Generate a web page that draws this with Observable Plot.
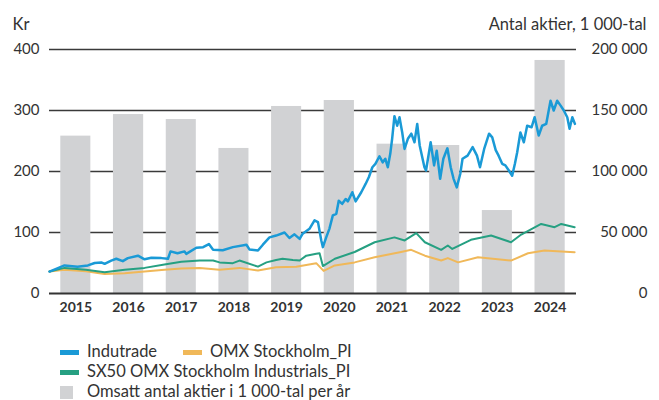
<!DOCTYPE html>
<html><head><meta charset="utf-8">
<script src="https://cdn.jsdelivr.net/npm/d3@7"></script>
<script src="https://cdn.jsdelivr.net/npm/@observablehq/plot@0.6"></script>
<style>
body{margin:0;background:#fff;font-family:Lato,sans-serif;color:#333;}
#chart{position:absolute;left:0;top:0;}
#legend{position:absolute;left:0;top:339px;width:659px;font-size:16.5px;color:#333;}
.row{position:absolute;height:20px;line-height:20px;white-space:nowrap;}
.sw{display:inline-block;vertical-align:middle;}
</style></head><body>
<div id="chart"></div>
<div id="legend"></div>
<script>
// Bars: traded shares per year, 1 000-tal
const years = [2015,2016,2017,2018,2019,2020,2021,2022,2023,2024];
const volume = [129000,146700,142600,118900,153300,158200,122400,121300,68000,191000];

// Indutrade share price, kr
const indutrade = [["2015-01-01",36],["2015-04-15",46],["2015-07-14",44],["2015-09-24",46],["2015-11-10",50],["2015-12-26",51],["2016-01-18",48.6],["2016-03-04",54],["2016-04-08",57],["2016-05-23",53],["2016-06-27",58],["2016-09-05",62],["2016-10-21",56],["2016-12-07",58.5],["2017-02-15",58],["2017-04-01",57],["2017-04-19",69],["2017-06-06",66],["2017-07-25",69],["2017-08-06",65],["2017-10-15",75],["2017-12-01",76],["2018-01-10",81],["2018-02-08",71.6],["2018-04-16",71],["2018-06-25",76],["2018-09-27",80],["2018-10-19",72],["2018-12-16",70.5],["2019-01-19",80],["2019-03-06",92],["2019-04-21",95],["2019-06-18",100],["2019-07-22",91],["2019-08-26",97],["2019-10-01",89.6],["2019-10-22",98],["2019-12-08",106],["2020-01-12",120],["2020-02-05",117],["2020-02-28",87],["2020-03-10",76],["2020-04-02",92],["2020-04-24",106],["2020-05-18",128],["2020-06-11",130.6],["2020-06-28",152],["2020-07-22",147],["2020-08-15",155],["2020-08-30",151],["2020-09-30",166],["2020-10-23",151],["2020-12-01",166],["2021-01-01",180],["2021-01-23",191],["2021-02-16",207],["2021-03-09",212.6],["2021-04-06",225],["2021-04-29",215],["2021-05-17",220.8],["2021-06-03",207],["2021-06-20",229],["2021-07-03",253.6],["2021-07-19",290.7],["2021-08-07",275],["2021-08-23",289],["2021-09-11",264],["2021-09-27",237],["2021-10-20",253.6],["2021-11-13",262],["2021-12-05",248],["2021-12-24",278],["2022-01-10",242.6],["2022-02-12",207],["2022-02-23",201.6],["2022-03-27",248],["2022-04-20",210],["2022-05-08",234],["2022-06-01",188],["2022-06-23",220.8],["2022-07-21",238],["2022-08-13",207],["2022-09-02",188],["2022-09-24",174],["2022-10-18",196],["2022-11-03",220.8],["2022-12-08",226],["2023-01-12",240],["2023-02-11",226],["2023-03-04",207],["2023-04-02",237],["2023-05-06",262],["2023-05-28",256],["2023-06-21",235],["2023-07-11",226],["2023-08-05",212.6],["2023-08-27",210],["2023-09-20",201.6],["2023-10-13",193],["2023-11-01",212.6],["2023-11-17",231.6],["2023-12-09",264],["2024-01-02",248],["2024-01-25",275],["2024-02-25",272.6],["2024-03-17",289],["2024-04-14",259],["2024-05-08",275],["2024-06-05",278],["2024-07-05",316],["2024-07-27",300],["2024-08-20",316],["2024-09-13",308],["2024-10-05",300],["2024-10-29",289],["2024-11-14",270],["2024-12-03",289],["2024-12-21",278]];

// SX50 OMX Stockholm Industrials_PI (rebased)
const industrials = [["2015-01-01",36],["2015-04-15",42],["2015-09-10",39],["2016-01-18",35],["2016-06-05",39],["2016-10-21",42],["2017-03-08",47.5],["2017-07-03",52],["2017-11-07",54],["2018-02-08",54],["2018-03-25",51],["2018-06-25",49.7],["2018-08-10",54],["2018-12-16",44],["2019-02-13",51],["2019-04-21",55],["2019-06-04",57],["2019-08-15",55],["2019-10-01",54],["2019-11-16",62],["2020-01-24",65],["2020-02-16",66],["2020-03-10",45],["2020-06-01",57],["2020-10-16",68],["2021-03-04",84],["2021-07-19",92],["2021-09-28",87],["2021-12-17",99],["2022-02-15",84],["2022-06-08",71.6],["2022-07-24",78.7],["2022-08-24",73],["2022-12-31",88],["2023-05-20",95],["2023-10-05",84],["2023-12-15",96.7],["2024-05-01",114],["2024-08-02",108.7],["2024-09-17",114],["2024-12-19",108.7]];

// OMX Stockholm_PI (rebased)
const omxs = [["2015-01-01",36],["2015-04-15",39],["2015-09-10",36.6],["2016-01-18",32],["2016-06-05",33],["2016-10-21",36],["2017-03-08",39],["2017-07-03",41],["2017-11-07",42],["2018-03-25",39],["2018-08-10",42],["2018-12-16",37.7],["2019-04-21",43],["2019-09-07",44],["2020-01-24",49.7],["2020-03-15",37],["2020-06-01",46],["2020-10-16",51],["2021-03-04",59.5],["2021-09-03",68],["2021-11-12",71.6],["2022-02-15",62],["2022-06-08",54],["2022-07-24",58],["2022-10-03",51],["2023-02-18",59.5],["2023-10-05",54],["2024-01-31",66],["2024-05-24",70.5],["2024-09-17",69],["2024-12-19",67.7]];

const leftTicks = [0,100,200,300,400];
const rightTicks = [0,50000,100000,150000,200000];
const volPerKr = 500; // right axis 200 000 aligns with left 400

const toRows = a => a.map(([d,v]) => ({date:new Date(d), v}));
const barRows = years.map((y,i) => ({date:new Date(Date.UTC(y,0,1)), v: volume[i]/volPerKr}));
const fmtSpace = n => d3.format(",")(n).replace(/,/g, " ");

const chart = Plot.plot({
  width:659, height:330,
  marginLeft:49, marginRight:83, marginTop:49, marginBottom:37,
  x:{type:"utc", domain:[new Date(Date.UTC(2015,0,1)), new Date(Date.UTC(2025,0,1))]},
  y:{domain:[0,400]},
  style:{fontFamily:"Lato, sans-serif", fontSize:"15px", color:"#333", background:"#fff"},
  marks:[
    Plot.ruleY([100,200,300,400],{stroke:"#3a3a3a", strokeWidth:1.3}),
    Plot.rectY(barRows,{x:"date", y:"v", interval:d3.utcYear, fill:"#d1d2d4", insetLeft:11.3, insetRight:11.3}),
    Plot.line(toRows(omxs),{x:"date", y:"v", stroke:"#f0b859", strokeWidth:2}),
    Plot.line(toRows(industrials),{x:"date", y:"v", stroke:"#26a082", strokeWidth:2}),
    Plot.line(toRows(indutrade),{x:"date", y:"v", stroke:"#1a9ad6", strokeWidth:2.5}),
    Plot.ruleY([0],{stroke:"#333", strokeWidth:2}),
    Plot.axisY(leftTicks,{anchor:"left", tickSize:0, tickPadding:10, fontSize:15, label:null}),
    Plot.axisY(rightTicks.map(t => t/volPerKr),{anchor:"right", tickSize:0, tickPadding:71, textAnchor:"end", fontSize:15, label:null, tickFormat:d => fmtSpace(d*volPerKr)}),
    Plot.axisX(years.map(y => new Date(Date.UTC(y,6,2))),{tickSize:0, tickPadding:9, tickFormat:d3.utcFormat("%Y"), fontWeight:"bold", fontSize:14, label:null}),
    Plot.text(["Kr"],{frameAnchor:"top-left", dx:-37, dy:-31, textAnchor:"start", fontSize:16.5}),
    Plot.text(["Antal aktier, 1 000-tal"],{frameAnchor:"top-right", dx:70, dy:-31, textAnchor:"end", fontSize:16.5})
  ]
});
document.getElementById("chart").append(chart);

// Legend
const legendItems = [
  {label:"Indutrade", color:"#1a9ad6", row:0, x:60, shape:"line"},
  {label:"OMX Stockholm_PI", color:"#f0b859", row:0, x:183, shape:"line"},
  {label:"SX50 OMX Stockholm Industrials_PI", color:"#26a082", row:1, x:60, shape:"line"},
  {label:"Omsatt antal aktier i 1 000-tal per år", color:"#d1d2d4", row:2, x:60, shape:"square"}
];
const lg = document.getElementById("legend");
legendItems.forEach(it => {
  const d = document.createElement("div");
  d.className = "row";
  d.style.left = it.x + "px";
  d.style.top = (it.row*20 + 2) + "px";
  const sw = document.createElement("span");
  sw.className = "sw";
  if (it.shape === "line") { sw.style.width = "19px"; sw.style.height = "5px"; sw.style.marginRight = "8px"; }
  else { sw.style.width = "13px"; sw.style.height = "13px"; sw.style.marginRight = "14px"; }
  sw.style.background = it.color;
  d.append(sw);
  d.append(document.createTextNode(it.label));
  lg.append(d);
});
</script>
</body></html>
